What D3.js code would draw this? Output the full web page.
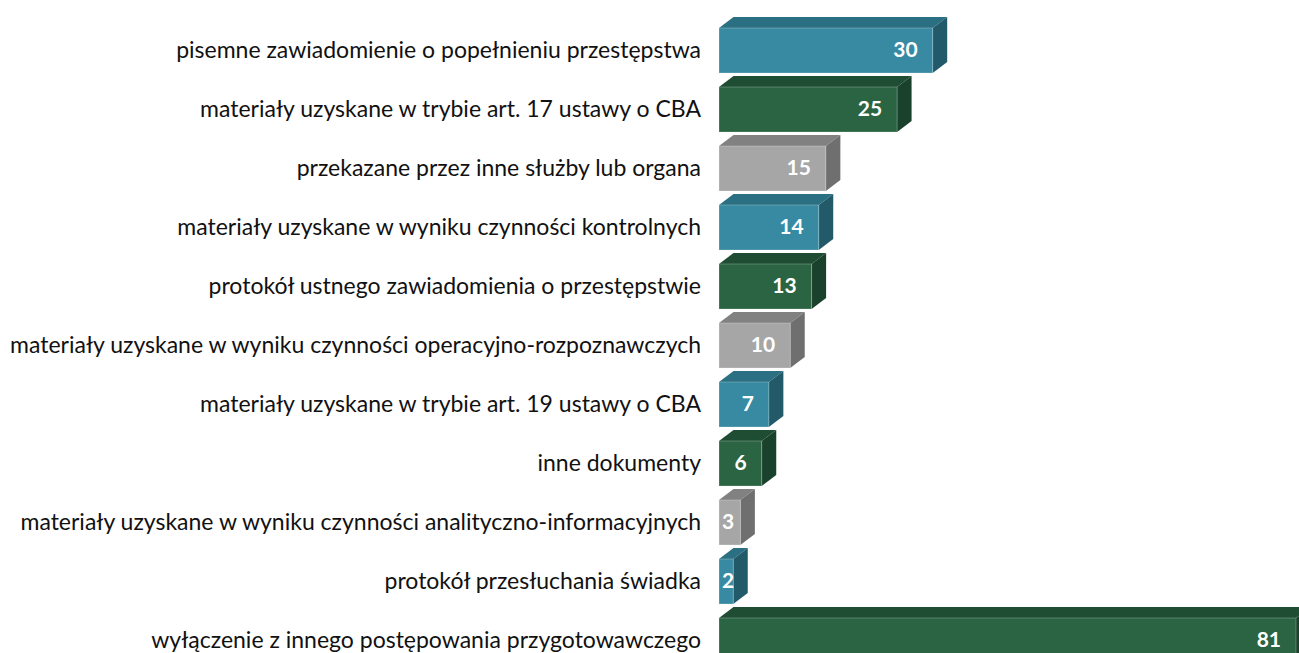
<!DOCTYPE html>
<html>
<head>
<meta charset="utf-8">
<script src="https://cdn.jsdelivr.net/npm/d3@7"></script>
<style>
  html, body { margin: 0; padding: 0; background: #ffffff; }
  svg { display: block; }
</style>
</head>
<body>
<svg id="chart" width="1299" height="653"></svg>
<script>
const categories = [
  "pisemne zawiadomienie o popełnieniu przestępstwa",
  "materiały uzyskane w trybie art. 17 ustawy o CBA",
  "przekazane przez inne służby lub organa",
  "materiały uzyskane w wyniku czynności kontrolnych",
  "protokół ustnego zawiadomienia o przestępstwie",
  "materiały uzyskane w wyniku czynności operacyjno-rozpoznawczych",
  "materiały uzyskane w trybie art. 19 ustawy o CBA",
  "inne dokumenty",
  "materiały uzyskane w wyniku czynności analityczno-informacyjnych",
  "protokół przesłuchania świadka",
  "wyłączenie z innego postępowania przygotowawczego"
];
const values = [30, 25, 15, 14, 13, 10, 7, 6, 3, 2, 81];

const palette = [
  { front: "#378aa1", top: "#2b6f82", side: "#235a6a" },
  { front: "#2a6443", top: "#1f4d33", side: "#1a412b" },
  { front: "#a6a6a6", top: "#818181", side: "#6f6f6f" }
];

const svg = d3.select("#chart");
const dx = 14.5, dy = 11;

const x = d3.scaleLinear().domain([0, 81]).range([719, 1296]);
const y = d3.scaleBand().domain(categories).range([28, 663]).paddingInner(0.237).paddingOuter(0);

const data = categories.map((c, i) => ({ c, v: values[i], col: palette[i % 3] }));

const g = svg.append("g");
const bars = g.selectAll("g.bar").data(data).join("g").attr("class", "bar");

bars.append("path")
  .attr("fill", d => d.col.top)
  .attr("d", d => {
    const x0 = x(0), x1 = x(d.v), yt = y(d.c);
    return `M${x0},${yt}L${x1},${yt}L${x1 + dx},${yt - dy}L${x0 + dx},${yt - dy}Z`;
  });
bars.append("path")
  .attr("fill", d => d.col.side)
  .attr("d", d => {
    const x1 = x(d.v), yt = y(d.c), yb = yt + y.bandwidth();
    return `M${x1},${yt}L${x1 + dx},${yt - dy}L${x1 + dx},${yb - dy}L${x1},${yb}Z`;
  });
bars.append("rect")
  .attr("x", x(0))
  .attr("y", d => y(d.c))
  .attr("width", d => x(d.v) - x(0))
  .attr("height", y.bandwidth())
  .attr("fill", d => d.col.front)
  .attr("stroke", "rgba(255,255,255,0.25)")
  .attr("stroke-width", 1);

// category labels
const labels = g.selectAll("text.cat").data(data).join("text")
  .attr("class", "cat")
  .attr("x", 701)
  .attr("y", d => y(d.c) + y.bandwidth() / 2 + 2)
  .attr("text-anchor", "end")
  .attr("dominant-baseline", "middle")
  .attr("fill", "#111111")
  .style("font-family", "Lato, 'Open Sans', sans-serif")
  .style("font-size", "20px")
  .text(d => d.c);

// fit font so the longest label spans like the reference
let maxW = 0;
labels.each(function () { maxW = Math.max(maxW, this.getComputedTextLength()); });
const fs = 20 * 691 / maxW;
labels.style("font-size", fs + "px");

// value labels
g.selectAll("text.val").data(data).join("text")
  .attr("class", "val")
  .attr("y", d => y(d.c) + y.bandwidth() / 2 + 1)
  .attr("dominant-baseline", "middle")
  .attr("text-anchor", "end")
  .attr("fill", "#ffffff")
  .style("font-family", "Lato, 'Open Sans', sans-serif")
  .style("font-weight", "700")
  .style("font-size", "21px")
  .text(d => d.v)
  .attr("x", function (d) {
    const w = this.getComputedTextLength();
    const end = x(d.v) - 15;
    return Math.max(end, x(0) + 3 + w);
  });
</script>
</body>
</html>
